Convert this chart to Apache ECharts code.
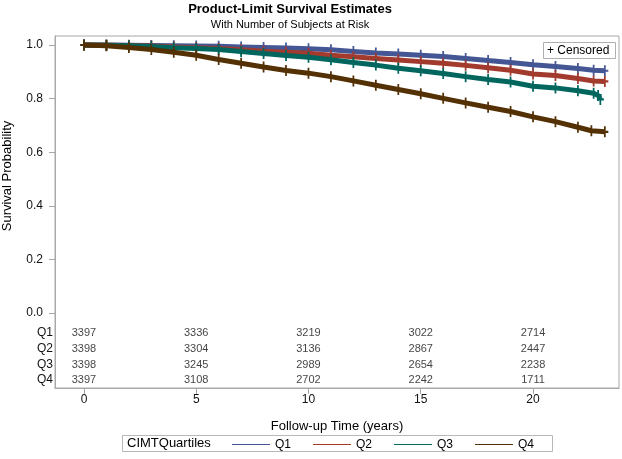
<!DOCTYPE html>
<html>
<head>
<meta charset="utf-8">
<script src="https://cdn.jsdelivr.net/npm/echarts@6/dist/echarts.min.js"></script>
<style>html,body{margin:0;padding:0;background:#fff}#c{width:622px;height:459px}</style>
</head>
<body>
<div id="c"></div>
<script>
// ---- data ----
const groups = ['Q1', 'Q2', 'Q3', 'Q4'];
const q1Time = [0,1,2,3,4,5,6,7,8,9,10,11,12,13,14,15,16,17,18,19,20,21,22,22.7,23.2];
const q1Surv = [1.0,1.0,0.999,0.998,0.997,0.996,0.995,0.993,0.991,0.989,0.986,0.982,0.976,0.970,0.966,0.962,0.957,0.950,0.942,0.935,0.926,0.920,0.912,0.906,0.904];
const q2Time = [0,1,2,3,4,5,6,7,8,9,10,11,12,13,14,15,16,17,18,19,20,21,22,22.7,23.2];
const q2Surv = [1.0,0.999,0.998,0.996,0.993,0.990,0.987,0.982,0.977,0.973,0.969,0.962,0.956,0.950,0.944,0.938,0.932,0.924,0.915,0.906,0.892,0.886,0.875,0.866,0.864];
const q3Time = [0,1,2,3,4,5,6,7,8,9,10,11,12,13,14,15,16,17,18,19,20,21,22,22.7,22.9,23.0];
const q3Surv = [1.0,0.999,0.997,0.994,0.990,0.987,0.983,0.976,0.968,0.961,0.954,0.945,0.935,0.925,0.913,0.904,0.894,0.882,0.871,0.862,0.846,0.840,0.829,0.820,0.812,0.797];
const q4Time = [0,1,2,3,4,5,6,7,8,9,10,11,12,13,14,15,16,17,18,19,20,21,22,22.6,23.2];
const q4Surv = [1.0,0.997,0.991,0.983,0.973,0.962,0.946,0.932,0.918,0.905,0.895,0.882,0.866,0.850,0.834,0.818,0.801,0.784,0.768,0.752,0.732,0.714,0.693,0.680,0.676];

const riskTimes = [0, 5, 10, 15, 20];
const riskQ1 = [3397, 3336, 3219, 3022, 2714];
const riskQ2 = [3398, 3304, 3136, 2867, 2447];
const riskQ3 = [3398, 3245, 2989, 2654, 2238];
const riskQ4 = [3397, 3108, 2702, 2242, 1711];

const yTicks = [0, 0.2, 0.4, 0.6, 0.8, 1.0];
const xTicks = [0, 5, 10, 15, 20];

// ---- styling / layout ----
const colors = ['#445694', '#A23A2E', '#01665E', '#543005'];
const FONT = "'Liberation Sans', Arial, sans-serif";
const AX = '#a8a8a8';
const riskRowY = [-0.0746, -0.1343, -0.194, -0.25]; // table row positions in axis units
const plusPath = 'path://M-1,-5L1,-5L1,-1L4,-1L4,1L1,1L1,5L-1,5L-1,1L-4,1L-4,-1L-1,-1Z';

const curveTimes = [q1Time, q2Time, q3Time, q4Time];
const curveSurv = [q1Surv, q2Surv, q3Surv, q4Surv];
const riskRows = [riskQ1, riskQ2, riskQ3, riskQ4];

const series = groups.map((g, i) => ({
  name: g,
  type: 'line',
  data: curveTimes[i].map((t, k) => [t, curveSurv[i][k]]),
  color: colors[i],
  lineStyle: { width: 5, color: colors[i] },
  showSymbol: true,
  showAllSymbol: true,
  symbol: plusPath,
  symbolSize: [7, 11],
  itemStyle: { color: colors[i], borderWidth: 0 },
  silent: true,
  z: 2 + i
}));

const riskData = [];
riskRows.forEach((row, r) => row.forEach((n, k) => riskData.push([riskTimes[k], riskRowY[r], n])));
series.push({
  name: 'atrisk',
  type: 'scatter',
  data: riskData,
  symbolSize: 0,
  silent: true,
  label: { show: true, position: 'inside', formatter: p => String(p.value[2]), fontSize: 11, fontFamily: FONT, color: '#111' }
});

const chart = echarts.init(document.getElementById('c'), null, { renderer: 'canvas' });
chart.setOption({
  animation: false,
  backgroundColor: '#fff',
  textStyle: { fontFamily: FONT },
  title: {
    text: 'Product-Limit Survival Estimates',
    subtext: 'With Number of Subjects at Risk',
    left: 285, top: -2, textAlign: 'center', itemGap: 3,
    textStyle: { fontSize: 13, fontWeight: 'bold', color: '#000', fontFamily: FONT },
    subtextStyle: { fontSize: 11, color: '#000', fontFamily: FONT }
  },
  grid: { left: 55, right: 3, top: 36, bottom: 71, show: true, borderColor: AX, borderWidth: 1, containLabel: false },
  xAxis: {
    type: 'value', min: -1.29, max: 23.83,
    name: 'Follow-up Time (years)', nameLocation: 'middle', nameGap: 32,
    nameTextStyle: { fontSize: 13, color: '#000', fontFamily: FONT },
    axisLine: { show: true, onZero: false, lineStyle: { color: AX } },
    axisTick: { show: true, customValues: xTicks, length: 6, lineStyle: { color: AX } },
    axisLabel: { customValues: xTicks, margin: 6, fontSize: 12, color: '#111', fontFamily: FONT },
    splitLine: { show: false }
  },
  yAxis: {
    type: 'value', min: -0.2799, max: 1.0336,
    axisLine: { show: true, onZero: false, lineStyle: { color: AX } },
    axisTick: { show: true, customValues: yTicks, length: 6, lineStyle: { color: AX } },
    axisLabel: {
      customValues: yTicks.concat(riskRowY), margin: 2, fontSize: 12, color: '#111', fontFamily: FONT,
      formatter: v => {
        for (let r = 0; r < riskRowY.length; r++) if (Math.abs(v - riskRowY[r]) < 1e-6) return groups[r];
        return '{n|' + v.toFixed(1) + '}';
      },
      rich: { n: { fontSize: 12, color: '#111', fontFamily: FONT, padding: [0, 10, 0, 0] } }
    },
    splitLine: { show: false }
  },
  legend: {
    data: groups, left: 227, top: 433.5, icon: 'rect', itemWidth: 38, itemHeight: 1, itemGap: 22,
    textStyle: { fontSize: 12, color: '#000', fontFamily: FONT }, selectedMode: false
  },
  graphic: [
    { type: 'text', x: 7, y: 176, rotation: Math.PI / 2,
      style: { text: 'Survival Probability', fontSize: 13, fontFamily: FONT, fill: '#000', textAlign: 'center', textVerticalAlign: 'middle' } },
    { type: 'rect', shape: { x: 543.5, y: 42.5, width: 72, height: 16 }, style: { fill: '#fff', stroke: '#b0b0b0', lineWidth: 1 }, z: 50 },
    { type: 'text', x: 547, y: 50.5, z: 51,
      style: { text: '+ Censored', fontSize: 12, fontFamily: FONT, fill: '#000', textVerticalAlign: 'middle' } },
    { type: 'rect', shape: { x: 122.5, y: 435.5, width: 430, height: 16 }, style: { fill: 'none', stroke: '#b8b8b8', lineWidth: 1 }, z: 50 },
    { type: 'text', x: 127, y: 443.5, z: 51,
      style: { text: 'CIMTQuartiles', fontSize: 13, fontFamily: FONT, fill: '#000', textVerticalAlign: 'middle' } }
  ],
  series: series
});
</script>
</body>
</html>
